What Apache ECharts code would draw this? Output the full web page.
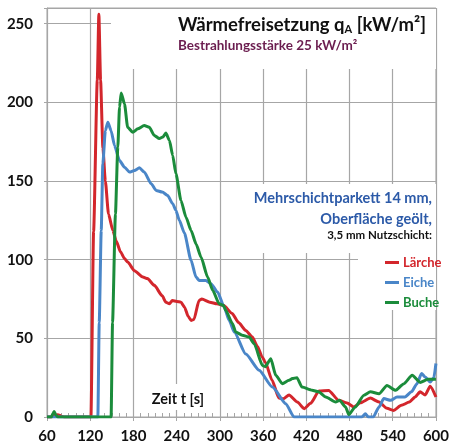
<!DOCTYPE html>
<html>
<head>
<meta charset="utf-8">
<script src="https://cdn.jsdelivr.net/npm/echarts@6/dist/echarts.min.js"></script>
<style>
  html, body { margin: 0; padding: 0; background: #fff; }
  #chart { width: 452px; height: 448px; }
</style>
</head>
<body>
<div id="chart"></div>
<script>
// Zeit t [s] / Wärmefreisetzung [kW/m²]
const tLaerche = [60, 66, 70, 75, 80, 84, 121, 124.7, 129.8, 132, 134.4, 137.6, 141, 145.4, 151.4, 156, 162, 167.6, 172, 181.4, 193, 199.5, 209, 220, 225, 230, 234, 240, 246, 251, 256, 260, 264, 271, 275, 286, 296, 305, 317, 326, 336, 345, 352, 359, 363, 372.5, 382, 388, 396, 407.6, 417, 426, 437.6, 451, 465, 476.6, 486, 495, 509, 521, 532, 541, 552, 563, 571, 578, 585, 592, 600];
const vLaerche = [0, 0, 1, 1.5, 0.5, 0, 0, 118, 214, 256, 214, 171, 150, 129, 118.6, 112, 105, 100.7, 98.5, 93, 89, 88, 83.7, 77, 73, 72, 74, 73.5, 73, 69.8, 64, 61.4, 62, 74, 75, 73, 72, 71, 65.8, 60, 55, 50.8, 45, 38, 35, 23.3, 12, 11.6, 14, 9.5, 5.3, 8.7, 16.5, 16.9, 10.6, 8.9, 6.4, 9, 12, 9.5, 5.5, 4.2, 7.4, 9.5, 12.7, 16, 14, 19.5, 12.7];

const tEiche = [60, 130.6, 132.5, 135.3, 137.5, 141, 144.5, 149, 153.7, 160.7, 167.6, 174.5, 181.4, 188.3, 195, 204.6, 211.5, 220, 227.5, 234.5, 239, 243.7, 250.7, 260, 266.8, 271.4, 280.7, 287.6, 296.8, 306, 313, 320, 336, 354.5, 373, 391.5, 403, 497, 502, 506, 513, 521, 527.6, 537, 546, 557, 566, 573.7, 580, 585, 592, 597, 600];
const vEiche = [0, 0, 60, 118.6, 161, 182, 187.4, 182, 172.6, 163, 158.8, 155.7, 156.7, 158.4, 155.7, 148.3, 144, 143, 140.8, 135.6, 131.3, 125, 117, 99.6, 89, 86.8, 86.8, 84.7, 79.4, 69.9, 61.4, 54, 40, 29.7, 19, 8.5, 0, 0, 2, 0, 0, 6.4, 11.7, 10.6, 12.7, 12.7, 16, 21.2, 27.6, 25.4, 22.2, 25, 34];

const tBuche = [60, 66, 68, 70, 72, 75, 149, 151, 155, 158.3, 160.7, 163, 167.6, 172, 179, 186, 195, 202, 209, 216, 221, 225, 230, 234.5, 239, 246, 253, 260, 267, 273.8, 283, 290, 299, 305, 308, 317.6, 322, 331, 340.7, 347.6, 359, 363, 370.7, 377.6, 386.8, 396, 400.6, 407, 414, 428, 437, 447, 460.7, 466, 474.5, 479, 488, 500, 509, 521, 532, 544, 555, 567, 578, 589, 600];
const vBuche = [0, 0, 2, 3.5, 1.5, 0, 0, 60, 129, 171.5, 197, 206, 199, 184.2, 181, 183.2, 185.3, 184.2, 179, 177, 178, 180.5, 175.8, 166.3, 154.6, 137.7, 127, 118.6, 110, 101.7, 89, 80.5, 72, 71, 67.8, 59.3, 54, 52, 50.8, 46.6, 32.8, 32, 37, 26.5, 21.2, 23.3, 24.4, 25, 19, 17, 16, 12.7, 9.5, 10.6, 6.4, 1.5, 6.4, 13.8, 16, 14.8, 20, 17, 21, 26.5, 22, 24, 24];

const seriesNames = ["Lärche", "Eiche", "Buche"];
const seriesColors = ["#d3262c", "#4a86c8", "#1b8c3b"];

const xTicks = { min: 60, max: 600, interval: 60, minorSplit: 6 };
const yTicks = { min: 0, max: 260, interval: 50 };

function pairs(ts, vs) {
  return ts.map((t, i) => [t, vs[i]]);
}

const chart = echarts.init(document.getElementById("chart"));
const grey = "#a6a6a6";
const font = "Lato, 'Open Sans', sans-serif";
const plotHeight = 448 - 8 - 31;

const option = {
  animation: false,
  grid: {
    left: 47, right: 15, top: 8, bottom: 31,
    show: true, borderColor: grey, borderWidth: 1
  },
  legend: {
    orient: "vertical",
    left: 380,
    top: 251,
    align: "left",
    itemWidth: 14,
    itemHeight: 3,
    itemGap: 7,
    icon: "rect",
    data: seriesNames.map((n, i) => ({
      name: n,
      textStyle: { color: seriesColors[i] }
    })),
    textStyle: { fontFamily: font, fontWeight: "bold", fontSize: 13, lineHeight: 13, padding: [0, 0, 0, -1] },
    z: 6
  },
  xAxis: [
    {
      type: "value",
      position: "bottom",
      min: xTicks.min, max: xTicks.max, interval: xTicks.interval,
      axisLine: { show: true, lineStyle: { color: grey, width: 1 } },
      axisTick: { show: true, inside: true, length: 4, lineStyle: { color: grey } },
      minorTick: { show: true, splitNumber: xTicks.minorSplit, length: 4, lineStyle: { color: grey } },
      axisLabel: { fontFamily: font, fontWeight: "bold", fontSize: 15, color: "#111", margin: 12 },
      splitLine: { show: true, lineStyle: { color: grey, width: 1.2 } },
      z: 0
    },
    {
      // Hauptstriche unterhalb der Achse (oberes Achsobjekt nach unten verschoben)
      type: "value",
      position: "top",
      offset: -plotHeight,
      min: xTicks.min, max: xTicks.max, interval: xTicks.interval,
      axisLine: { show: false },
      axisTick: { show: true, inside: true, length: 4, lineStyle: { color: grey } },
      axisLabel: { show: false },
      splitLine: { show: false },
      z: 0
    }
  ],
  yAxis: {
    type: "value",
    min: yTicks.min, max: yTicks.max, interval: yTicks.interval,
    axisLine: { show: true, lineStyle: { color: grey, width: 1 } },
    axisTick: { show: true, length: 3, lineStyle: { color: grey } },
    axisLabel: {
      fontFamily: font, fontWeight: "bold", fontSize: 15, color: "#111", margin: 14,
      formatter: v => (v % yTicks.interval === 0 ? String(v) : "")
    },
    splitLine: { show: true, lineStyle: { color: grey, width: 1.2 } },
    z: 0
  },
  graphic: [
    // weiße Hinterlegung der Textfelder (verdeckt Gitterlinien)
    { type: "rect", z: 1, shape: { x: 111, y: 9, width: 325, height: 60 }, style: { fill: "#fff" } },
    { type: "rect", z: 1, shape: { x: 250, y: 184, width: 186, height: 69 }, style: { fill: "#fff" } },
    { type: "rect", z: 1, shape: { x: 358, y: 253, width: 78, height: 57 }, style: { fill: "#fff" } },
    { type: "rect", z: 1, shape: { x: 146, y: 384, width: 64, height: 26 }, style: { fill: "#fff" } },
    {
      type: "text", z: 6, x: 426, y: 25,
      style: {
        text: "{a|Wärmefreisetzung q}{s|A}{a| [kW/m²]}",
        align: "right", verticalAlign: "middle",
        rich: {
          a: { fontFamily: font, fontWeight: "bold", fontSize: 18.5, fill: "#111" },
          s: { fontFamily: font, fontWeight: "bold", fontSize: 11, fill: "#111", padding: [9, 0, 0, 0] }
        }
      }
    },
    {
      type: "text", z: 6, x: 178, y: 46,
      style: {
        text: "Bestrahlungsstärke 25 kW/m²",
        align: "left", verticalAlign: "middle",
        fontFamily: font, fontWeight: "bold", fontSize: 13.5, fill: "#6b1d4f"
      }
    },
    {
      type: "text", z: 6, x: 432, y: 198,
      style: {
        text: "Mehrschichtparkett 14 mm,",
        align: "right", verticalAlign: "middle",
        fontFamily: font, fontWeight: "bold", fontSize: 14.5, fill: "#2c5aa8"
      }
    },
    {
      type: "text", z: 6, x: 432, y: 219,
      style: {
        text: "Oberfläche geölt,",
        align: "right", verticalAlign: "middle",
        fontFamily: font, fontWeight: "bold", fontSize: 14.5, fill: "#2c5aa8"
      }
    },
    {
      type: "text", z: 6, x: 432, y: 235,
      style: {
        text: "3,5 mm Nutzschicht:",
        align: "right", verticalAlign: "middle",
        fontFamily: font, fontWeight: "bold", fontSize: 11.5, fill: "#111"
      }
    },
    {
      type: "text", z: 6, x: 178, y: 399,
      style: {
        text: "Zeit t [s]",
        align: "center", verticalAlign: "middle",
        fontFamily: font, fontWeight: "bold", fontSize: 14.5, fill: "#111"
      }
    }
  ],
  series: [
    pairs(tLaerche, vLaerche),
    pairs(tEiche, vEiche),
    pairs(tBuche, vBuche)
  ].map((d, i) => ({
    name: seriesNames[i],
    type: "line",
    xAxisIndex: 0,
    data: d,
    showSymbol: false,
    smooth: 0.2,
    smoothMonotone: "x",
    lineStyle: { color: seriesColors[i], width: 3 },
    itemStyle: { color: seriesColors[i] },
    z: 2
  }))
};

chart.setOption(option);
</script>
</body>
</html>
